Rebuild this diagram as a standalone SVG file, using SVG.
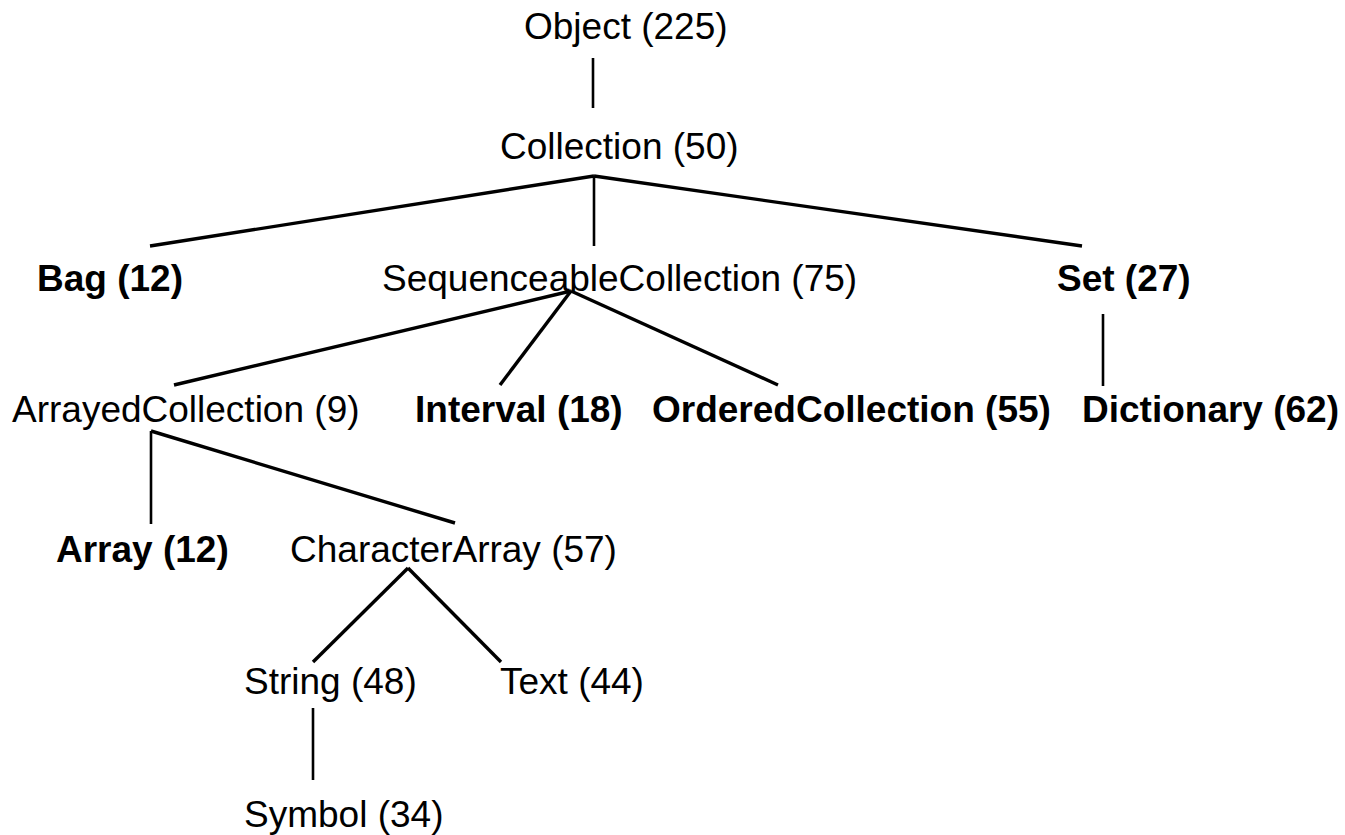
<svg xmlns="http://www.w3.org/2000/svg" width="1345" height="835" viewBox="0 0 1345 835">
<style>
text{font-family:"Liberation Sans",Arial,sans-serif;font-size:37px;fill:#000}
.b{font-weight:bold}
.e{stroke:#000;stroke-width:3.4;fill:none;stroke-linecap:butt}
.v{stroke:#000;stroke-width:2.6;fill:none}
</style>
<rect width="1345" height="835" fill="#fff"/>
<g id="connectors">
<line class="v" x1="593" y1="58" x2="593" y2="108"/>
<line class="e" x1="594" y1="176" x2="150" y2="246"/>
<line class="v" x1="594" y1="176" x2="594" y2="246"/>
<line class="e" x1="594" y1="176" x2="1082" y2="246"/>
<line class="e" x1="571" y1="291" x2="174" y2="385"/>
<line class="e" x1="571" y1="291" x2="500" y2="385"/>
<line class="e" x1="571" y1="291" x2="778" y2="385"/>
<line class="v" x1="1103" y1="314" x2="1103" y2="386"/>
<line class="v" x1="151" y1="431" x2="151" y2="524"/>
<line class="e" x1="151" y1="431" x2="455" y2="523"/>
<line class="e" x1="408" y1="568" x2="313" y2="662"/>
<line class="e" x1="408" y1="568" x2="501" y2="662"/>
<line class="v" x1="313" y1="708" x2="313" y2="780"/>
</g>
<g id="object"><text x="524" y="39">Object (225)</text></g>
<g id="collection"><text x="500" y="159">Collection (50)</text></g>
<g id="bag"><text class="b" x="37" y="291">Bag (12)</text></g>
<g id="sequenceable"><text x="382" y="291">SequenceableCollection (75)</text></g>
<g id="set"><text class="b" x="1057" y="291">Set (27)</text></g>
<g id="arrayed"><text x="12" y="422">ArrayedCollection (9)</text></g>
<g id="interval"><text class="b" x="415" y="422">Interval (18)</text></g>
<g id="ordered"><text class="b" x="652" y="422">OrderedCollection (55)</text></g>
<g id="dictionary"><text class="b" x="1082" y="422">Dictionary (62)</text></g>
<g id="array"><text class="b" x="56" y="562">Array (12)</text></g>
<g id="characterarray"><text x="290" y="562">CharacterArray (57)</text></g>
<g id="string"><text x="244" y="694">String (48)</text></g>
<g id="text"><text x="500" y="694">Text (44)</text></g>
<g id="symbol"><text x="244" y="827">Symbol (34)</text></g>
</svg>
